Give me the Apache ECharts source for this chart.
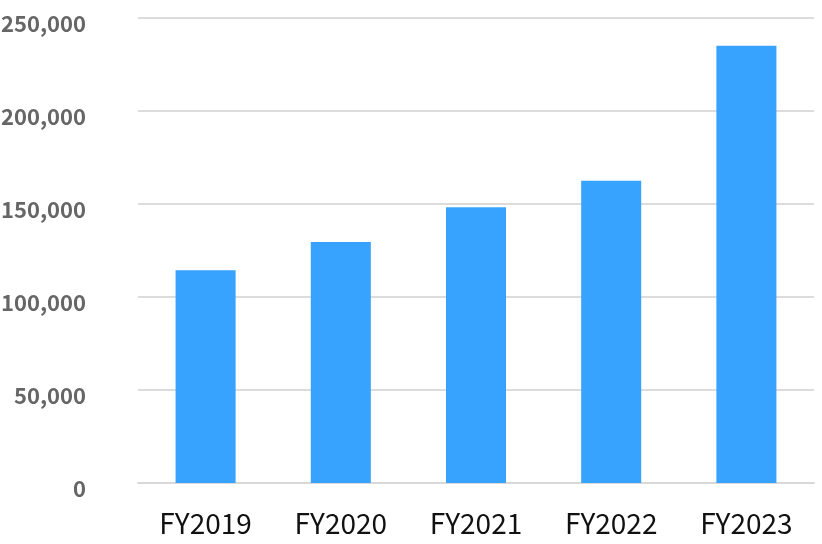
<!DOCTYPE html>
<html>
<head>
<meta charset="utf-8">
<script src="https://cdn.jsdelivr.net/npm/echarts@6/dist/echarts.min.js"></script>
<style>html,body{margin:0;padding:0;background:#fff}#c{width:822px;height:544px}</style>
</head>
<body>
<div id="c"></div>
<script>
var categories = ['FY2019', 'FY2020', 'FY2021', 'FY2022', 'FY2023'];
var values = [114400, 129600, 148200, 162500, 235100];
var yTicks = [0, 50000, 100000, 150000, 200000, 250000];

var chart = echarts.init(document.getElementById('c'), null, {renderer: 'canvas'});
chart.setOption({
  animation: false,
  backgroundColor: '#ffffff',
  grid: {left: 138, right: 8, top: 18, bottom: 61, containLabel: false, outerBoundsMode: 'none'},
  xAxis: {
    type: 'category',
    data: categories,
    axisLine: {show: true, lineStyle: {color: '#d9d9d9', width: 2}},
    axisTick: {show: false},
    axisLabel: {color: '#111', fontSize: 28, fontFamily: 'Noto Sans CJK JP', margin: 26}
  },
  yAxis: {
    type: 'value',
    min: yTicks[0],
    max: yTicks[yTicks.length - 1],
    interval: 50000,
    axisLine: {show: false},
    axisTick: {show: false},
    splitLine: {lineStyle: {color: '#dcdcdc', width: 2}},
    axisLabel: {
      color: '#666', fontSize: 22, fontWeight: 'bold', fontFamily: 'Noto Sans CJK JP', margin: 52,
      verticalAlign: 'top', lineHeight: 11,
      formatter: function (v) { return v.toLocaleString('en-US'); }
    }
  },
  series: [{
    type: 'bar',
    data: values,
    barWidth: '44.4%',
    itemStyle: {color: '#38a3fe'}
  }]
});
</script>
</body>
</html>
